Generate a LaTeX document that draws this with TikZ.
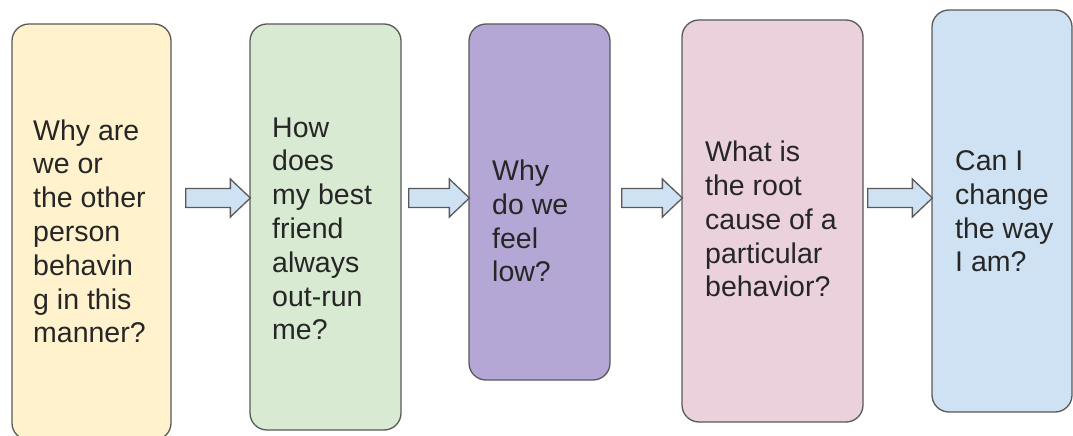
\documentclass[tikz,border=0pt]{standalone}
\usepackage{fontspec}
\setmainfont{Liberation Sans}
\usepackage{xcolor}
\usetikzlibrary{calc}

\definecolor{boxline}{HTML}{595959}
\definecolor{qyellow}{HTML}{FFF2CC}
\definecolor{qgreen}{HTML}{D9EAD3}
\definecolor{qpurple}{HTML}{B4A7D6}
\definecolor{qpink}{HTML}{EAD1DC}
\definecolor{qblue}{HTML}{CFE2F3}

% block arrow: gap after the first box, then from one box to the next
\newcommand{\flowarrow}[3]{%
  \draw [flow] let \p1=(#2.east), \p2=(#3.west) in
    (\x1+#1, 247.5) -- (\x2-19, 247.5) -- (\x2-19, 257) -- (\x2+1, 238)
    -- (\x2-19, 219) -- (\x2-19, 228.5) -- (\x1+#1, 228.5) -- cycle;}

\begin{document}
\begin{tikzpicture}[x=1pt, y=1pt,
        qbox/.style={draw=boxline, line width=1.3pt, rectangle, rounded corners=17pt, inner sep=0pt},
        qtext/.style={anchor=base west, align=left, inner sep=0pt, text=black!85, font=\fontsize{28.5}{33.8}\selectfont},
        flow/.style={draw=boxline, fill=qblue, line width=1.3pt, line join=miter}
    ]
        \useasboundingbox (0,0) rectangle (1073,436);
        \fill [white] (0,0) rectangle (1073,436);
        \node (why) [qbox, fill=qyellow, minimum width=159, minimum height=416] at (91.5,204) {};
        \node (how) [qbox, fill=qgreen, minimum width=151, minimum height=406] at (325.5,209) {};
        \node (low) [qbox, fill=qpurple, minimum width=141, minimum height=356] at (539.5,234) {};
        \node (root) [qbox, fill=qpink, minimum width=181, minimum height=402] at (772.5,215) {};
        \node (change) [qbox, fill=qblue, minimum width=140, minimum height=402] at (1002,225) {};
        % text anchored at the baseline of the last line
        \node (whytext) [qtext] at (33,93) {Why are\\we or\\the other\\person\\behavin\\g in this\\manner?};
        \node (howtext) [qtext] at (272,96) {How\\does\\my best\\friend\\always\\out-run\\me?};
        \node (lowtext) [qtext] at (492,154) {Why\\do we\\feel\\low?};
        \node (roottext) [qtext] at (705,139) {What is\\the root\\cause of a\\particular\\behavior?};
        \node (changetext) [qtext] at (955,164) {Can I\\change\\the way\\I am?};
        \flowarrow{14}{why}{how}
        \flowarrow{7}{how}{low}
        \flowarrow{11}{low}{root}
        \flowarrow{4}{root}{change}
    \end{tikzpicture}
\end{document}
